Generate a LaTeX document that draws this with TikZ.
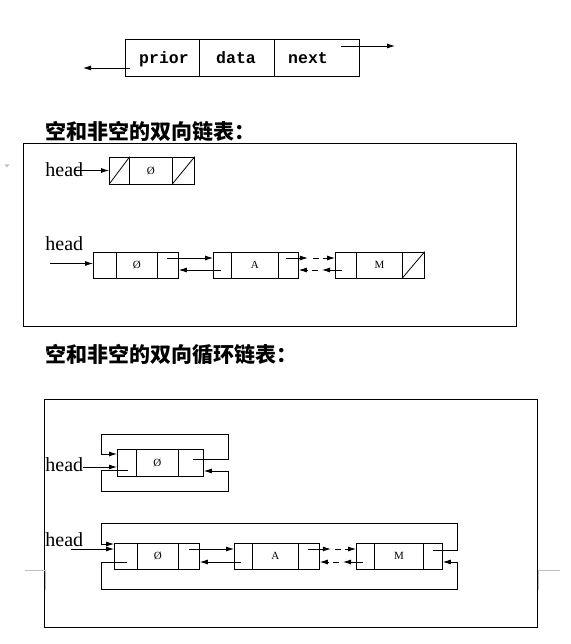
\documentclass[tikz,border=0pt]{standalone}
\usepackage{fontspec}
\setmainfont{Liberation Serif}
\setmonofont{Liberation Mono}
\newfontfamily\cjk{Noto Sans CJK SC}
\usetikzlibrary{arrows.meta,calc}
\begin{document}
\begin{tikzpicture}[x=1pt,y=-1pt,
  line width=0.8pt,
  cell/.style={draw, line width=0.8pt, inner sep=0pt, anchor=west},
  arr/.style={-{Latex[length=8pt,width=5pt]}, line width=0.8pt},
  dsh/.style={dash pattern=on 6pt off 4pt},
  fieldtxt/.style={font=\fontsize{16.5}{16.5}\selectfont\ttfamily\bfseries, inner sep=0pt, anchor=base},
  headtxt/.style={font=\fontsize{20}{20}\selectfont, inner sep=0pt, anchor=west},
  valtxt/.style={font=\fontsize{11}{11}\selectfont, inner sep=0pt},
  titletxt/.style={font=\fontsize{21}{21}\selectfont\cjk\bfseries, inner sep=0pt, anchor=west},
  artifact/.style={line width=0.6pt, gray!50}]
\useasboundingbox (0,0) rectangle (570,644);

% ---------- node structure ----------
\node[cell, minimum width=74, minimum height=37] (prior) at (125,57.5) {};
\node[cell, minimum width=75, minimum height=37] (data) at (199,57.5) {};
\node[cell, minimum width=85, minimum height=37] (next) at (274,57.5) {};
\node[fieldtxt] (tprior) at (164,64) {prior};
\node[fieldtxt] (tdata) at (236,64) {data};
\node[fieldtxt] (tnext) at (308,64) {next};
\coordinate (pl) at (83,68);
\coordinate (nr) at (395,46);
\draw[arr] ($(prior.west)+(5,10.5)$) -- (pl);
\draw[arr] ($(next.east)+(-19,-11.5)$) -- (nr);

% ---------- title 1 ----------
\node[titletxt] (t1) at (45,131) {空和非空的双向链表：};
\draw (23,143) rectangle (516,326);

% empty doubly linked list
\node[cell, minimum width=20, minimum height=27] (e1) at (109,170.5) {};
\node[cell, minimum width=43, minimum height=27] (e2) at (129,170.5) {};
\node[cell, minimum width=22, minimum height=27] (e3) at (172,170.5) {};
\draw (e1.south west) -- (e1.north east);
\draw (e3.south west) -- (e3.north east);
\node[valtxt] (ev) at (e2.center) {Ø};
\node[headtxt] (h1) at (45,170) {head};
\coordinate (h1s) at (75,170.5);
\draw[arr] (h1s) -- (e1.west);

% non-empty doubly linked list
\node[cell, minimum width=23, minimum height=26] (a1) at (93,265) {};
\node[cell, minimum width=41, minimum height=26] (a2) at (116,265) {};
\node[cell, minimum width=21, minimum height=26] (a3) at (157,265) {};
\node[cell, minimum width=18, minimum height=26] (b1) at (213,265) {};
\node[cell, minimum width=47, minimum height=26] (b2) at (231,265) {};
\node[cell, minimum width=20, minimum height=26] (b3) at (278,265) {};
\node[cell, minimum width=21, minimum height=26] (m1) at (335,265) {};
\node[cell, minimum width=46, minimum height=26] (m2) at (356,265) {};
\node[cell, minimum width=22, minimum height=26] (m3) at (402,265) {};
\draw (m3.south west) -- (m3.north east);
\node[valtxt] (av) at (a2.center) {Ø};
\node[valtxt] (bv) at (b2.center) {A};
\node[valtxt] (mv) at (m2.center) {M};
\node[headtxt] (h2) at (45,244) {head};
\coordinate (h2s) at (50,263.5);
\draw[arr] (h2s) -- ($(a1.west)+(0,-1.5)$);
\draw[arr] ($(a3.west)+(10,-7)$) -- ($(b1.west)+(0,-7)$);
\draw[arr] ($(b1.east)+(-11,5)$) -- ($(a3.east)+(0,5)$);
\draw[arr] ($(b3.west)+(8,-7)$) -- ($(b3.east)+(9,-7)$);
\draw[arr,dsh] ($(b3.east)+(14,-7)$) -- ($(m1.west)+(0,-7)$);
\draw[arr] ($(m1.west)+(7,5)$) -- ($(m1.west)+(-13,5)$);
\draw[arr,dsh] ($(m1.west)+(-17,5)$) -- ($(b3.east)+(0,5)$);

% ---------- title 2 ----------
\node[titletxt] (t2) at (45,355) {空和非空的双向循环链表：};
\draw (44,399) rectangle (537,627);

% empty circular doubly linked list
\node[cell, minimum width=19, minimum height=27] (ce1) at (117,462.5) {};
\node[cell, minimum width=42, minimum height=27] (ce2) at (136,462.5) {};
\node[cell, minimum width=25, minimum height=27] (ce3) at (178,462.5) {};
\node[valtxt] (cev) at (ce2.center) {Ø};
\draw[arr] ($(ce3.center)+(2,-3.5)$) -- (228,459) -- (228,434) -- (101,434) -- (101,454) -- ($(ce1.west)+(0,-8.5)$);
\draw[arr] ($(ce1.center)+(1,7.5)$) -- (101,470) -- (101,491) -- (228,491) -- (228,471) -- ($(ce3.east)+(0,8.5)$);
\node[headtxt] (h3) at (45,465) {head};
\coordinate (h3s) at (83,467);
\draw[arr] (h3s) -- ($(ce1.west)+(0,4.5)$);

% non-empty circular doubly linked list
\node[cell, minimum width=23, minimum height=26] (p1) at (114,556) {};
\node[cell, minimum width=41, minimum height=26] (p2) at (137,556) {};
\node[cell, minimum width=21, minimum height=26] (p3) at (178,556) {};
\node[cell, minimum width=18, minimum height=26] (q1) at (234,556) {};
\node[cell, minimum width=46, minimum height=26] (q2) at (252,556) {};
\node[cell, minimum width=21, minimum height=26] (q3) at (298,556) {};
\node[cell, minimum width=18, minimum height=26] (r1) at (356,556) {};
\node[cell, minimum width=49, minimum height=26] (r2) at (374,556) {};
\node[cell, minimum width=19, minimum height=26] (r3) at (423,556) {};
\node[valtxt] (pv) at (p2.center) {Ø};
\node[valtxt] (qv) at (q2.center) {A};
\node[valtxt] (rv) at (r2.center) {M};
\node[headtxt] (h4) at (45,540) {head};
\coordinate (h4s) at (71,549);
\draw[arr] (h4s) -- ($(p1.west)+(0,-7)$);
\draw[arr] ($(r3.center)+(0,-6)$) -- (457,550) -- (457,523) -- (101,523) -- (101,544) -- ($(p1.west)+(0,-12)$);
\draw[arr] ($(p1.center)+(1.5,6)$) -- (101,562) -- (101,589) -- (457,589) -- (457,562) -- ($(r3.east)+(0,6)$);
\draw[arr] ($(p3.center)+(0,-7)$) -- ($(q1.west)+(0,-7)$);
\draw[arr] ($(q1.center)+(-2,6)$) -- ($(p3.east)+(0,6)$);
\draw[arr] ($(q3.center)+(-1,-7)$) -- ($(q3.east)+(11,-7)$);
\draw[arr,dsh] ($(q3.east)+(15,-7)$) -- ($(r1.west)+(0,-7)$);
\draw[arr] ($(r1.west)+(7,6)$) -- ($(r1.west)+(-13,6)$);
\draw[arr,dsh] ($(r1.west)+(-17,6)$) -- ($(q3.east)+(0,6)$);

% ---------- page artifacts ----------
\draw[artifact] (25,570) -- (45,570) -- (45,590);
\draw[artifact] (560,570) -- (538,570) -- (538,590);
\fill[gray!50] (4.5,164.5) -- (9.5,164.5) -- (7,167.5) -- cycle;
\end{tikzpicture}
\end{document}
